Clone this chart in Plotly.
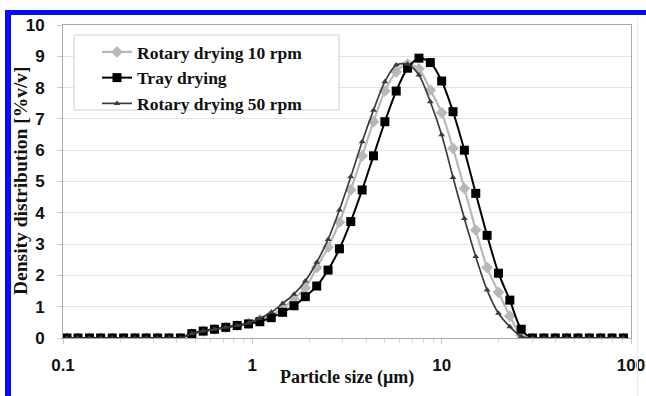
import plotly.graph_objects as go

# Particle size classes (µm)
size_um = [0.105, 0.120, 0.138, 0.158, 0.182, 0.209, 0.240, 0.275, 0.316, 0.363,
           0.417, 0.479, 0.550, 0.631, 0.724, 0.832, 0.955, 1.096, 1.259, 1.445,
           1.660, 1.905, 2.188, 2.512, 2.884, 3.311, 3.802, 4.365, 5.012, 5.754,
           6.607, 7.586, 8.710, 10.000, 11.482, 13.183, 15.136, 17.378, 19.953, 22.909,
           26.303, 30.200, 34.674, 39.811, 45.709, 52.481, 60.256, 69.183, 79.433, 91.201]

rotary_10rpm = [0, 0, 0, 0, 0, 0, 0, 0, 0, 0,
                0, 0.14, 0.22, 0.28, 0.34, 0.40, 0.47, 0.58, 0.73, 0.95,
                1.25, 1.60, 2.25, 2.90, 3.70, 4.73, 5.82, 6.91, 7.89, 8.50,
                8.75, 8.60, 7.92, 7.20, 6.06, 4.78, 3.45, 2.25, 1.46, 0.70,
                0.08, 0, 0, 0, 0, 0, 0, 0, 0, 0]

tray_drying = [0, 0, 0, 0, 0, 0, 0, 0, 0, 0,
               0, 0.14, 0.22, 0.28, 0.34, 0.40, 0.45, 0.52, 0.65, 0.82,
               1.03, 1.32, 1.66, 2.17, 2.85, 3.72, 4.73, 5.82, 6.91, 7.89,
               8.62, 8.94, 8.80, 8.21, 7.23, 6.00, 4.62, 3.28, 2.07, 1.21,
               0.28, 0, 0, 0, 0, 0, 0, 0, 0, 0]

rotary_50rpm = [0, 0, 0, 0, 0, 0, 0, 0, 0, 0,
                0, 0.14, 0.22, 0.28, 0.34, 0.40, 0.48, 0.63, 0.82, 1.10,
                1.40, 1.82, 2.42, 3.15, 4.09, 5.15, 6.27, 7.28, 8.19, 8.72,
                8.75, 8.40, 7.55, 6.49, 5.13, 3.82, 2.60, 1.53, 0.79, 0.36,
                0.05, 0, 0, 0, 0, 0, 0, 0, 0, 0]

series_names = ["Rotary drying 10 rpm", "Tray drying", "Rotary drying 50 rpm"]
x_tick_vals = [0.1, 1, 10, 100]
x_tick_text = ["0.1", "1", "10", "100"]
x_minor_vals = [0.2, 0.3, 0.4, 0.5, 0.6, 0.7, 0.8, 0.9,
                2, 3, 4, 5, 6, 7, 8, 9,
                20, 30, 40, 50, 60, 70, 80, 90]
y_tick_vals = list(range(0, 11))

W, H = 646, 396
L, R, T, B = 63, 15, 25, 58
PW, PH = W - L - R, H - T - B


def px_x(p):
    return (p - L) / PW


def px_y(p):
    return (H - B - p) / PH


fig = go.Figure()

fig.add_trace(go.Scatter(
    x=size_um, y=rotary_10rpm, name=series_names[0], mode="lines+markers",
    line=dict(color="#b8b8b8", width=2.2, shape="spline", smoothing=0.8),
    marker=dict(symbol="diamond", size=9, color="#b8b8b8")))
fig.add_trace(go.Scatter(
    x=size_um, y=tray_drying, name=series_names[1], mode="lines+markers",
    line=dict(color="#000000", width=2, shape="spline", smoothing=0.8),
    marker=dict(symbol="square", size=9, color="#000000")))
fig.add_trace(go.Scatter(
    x=size_um, y=rotary_50rpm, name=series_names[2], mode="lines+markers",
    line=dict(color="#3c3c3c", width=1.7, shape="spline", smoothing=0.8),
    marker=dict(symbol="triangle-up", size=6, color="#3c3c3c")))

tick_font = dict(family="Liberation Sans", size=17, color="#111111", weight="bold")
title_font = dict(family="Liberation Serif", color="#111111", weight="bold")

fig.update_layout(
    width=W, height=H,
    margin=dict(l=L, r=R, t=T, b=B, autoexpand=False),
    paper_bgcolor="white", plot_bgcolor="white",
    showlegend=True,
    legend=dict(x=px_x(97), y=px_y(34), xanchor="left", yanchor="top",
                bgcolor="rgba(0,0,0,0)", borderwidth=0,
                font=dict(family="Liberation Serif", size=17.5, color="#111111", weight="bold"),
                tracegroupgap=0),
    xaxis=dict(type="log", range=[-1, 2], tickvals=x_tick_vals, ticktext=x_tick_text,
               showgrid=False, zeroline=False, showline=True, linecolor="#a8a8a8",
               linewidth=1, mirror=True, ticks="outside", ticklen=5, tickcolor="#c8c8c8",
               tickfont=tick_font, ticklabelstandoff=7,
               minor=dict(tickvals=x_minor_vals, ticks="outside", ticklen=4,
                          tickcolor="#d8d8d8", showgrid=False)),
    yaxis=dict(range=[0, 10], tickvals=y_tick_vals, showgrid=True, gridcolor="#e3e3e3",
               gridwidth=1, zeroline=False, showline=True, linecolor="#a8a8a8",
               linewidth=1, mirror=True, ticks="outside", ticklen=5, tickcolor="#c8c8c8",
               tickfont=tick_font, ticklabelstandoff=9),
    shapes=[
        # legend box
        dict(type="rect", xref="paper", yref="paper",
             x0=px_x(74), x1=px_x(339), y0=px_y(110), y1=px_y(35),
             line=dict(color="#cfcfcf", width=1), fillcolor="white", layer="above"),
        # blue frame (left and top strips)
        dict(type="rect", xref="paper", yref="paper",
             x0=px_x(5), x1=px_x(11), y0=px_y(400), y1=px_y(10),
             line=dict(width=0), fillcolor="#0a0aff", layer="above"),
        dict(type="rect", xref="paper", yref="paper",
             x0=px_x(5), x1=px_x(650), y0=px_y(15), y1=px_y(10),
             line=dict(width=0), fillcolor="#0a0aff", layer="above"),
        # faint chart-area edge on the right
        dict(type="line", xref="paper", yref="paper",
             x0=px_x(637.5), x1=px_x(637.5), y0=px_y(400), y1=px_y(17),
             line=dict(color="#e8e8f4", width=1), layer="above"),
    ],
    annotations=[
        dict(text="Particle size (µm)", xref="paper", yref="paper",
             x=0.5, y=px_y(378), xanchor="center", yanchor="middle",
             showarrow=False, font=dict(size=18, **title_font)),
        dict(text="Density distribution [%v/v]", xref="paper", yref="paper",
             x=px_x(20), y=px_y(181), xanchor="center", yanchor="middle",
             textangle=-90, showarrow=False, font=dict(size=19.5, **title_font)),
    ],
)

fig.write_html("out.html")
